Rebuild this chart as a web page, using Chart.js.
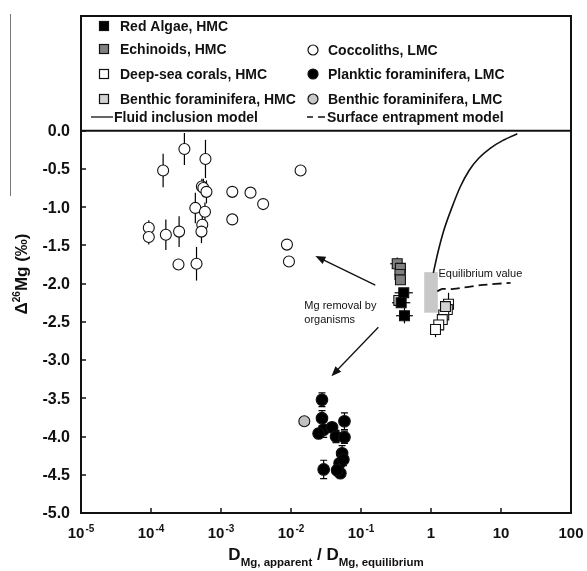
<!doctype html>
<html lang="en">
<head>
<meta charset="utf-8">
<title>Mg isotope fractionation vs D(Mg)</title>
<style>
  * { margin: 0; padding: 0; }
  body { background: #fff; width: 587px; height: 571px; overflow: hidden; }
  canvas { display: block; }
</style>
</head>
<body>
<canvas id="myChart" width="587" height="571"></canvas>
<script src="https://cdn.jsdelivr.net/npm/chart.js"></script>
<script>
// ---- data ----
// coccoliths, LMC (open circles)
const coccoX   = [3.0e-4, 6.0e-4, 1.49e-4, 0.0137, 5.33e-4, 5.6e-4, 6.2e-4, 1.45e-3, 2.64e-3, 4.0e-3, 4.3e-4, 5.9e-4,
                  1.45e-3, 5.4e-4, 9.3e-5, 9.3e-5, 1.63e-4, 2.52e-4, 5.26e-4, 8.75e-3, 9.35e-3, 2.47e-4, 4.47e-4];
const coccoY   = [-0.24, -0.37, -0.52, -0.52, -0.73, -0.75, -0.80, -0.80, -0.81, -0.96, -1.01, -1.06,
                  -1.16, -1.23, -1.27, -1.39, -1.36, -1.32, -1.32, -1.49, -1.71, -1.75, -1.74];
const coccoErr = [0.21, 0.25, 0.22, 0, 0.10, 0.12, 0.15, 0, 0.06, 0, 0.20, 0.12,
                  0, 0.12, 0.10, 0.10, 0.20, 0.20, 0.15, 0, 0, 0.05, 0.22];

// planktic foraminifera, LMC (filled circles)
const plankX   = [0.0277, 0.0277, 0.0293, 0.0386, 0.044, 0.058, 0.058, 0.0537, 0.0495, 0.0507, 0.0293, 0.0455, 0.0248, 0.056];
const plankY   = [-3.52, -3.76, -3.91, -3.88, -4.00, -3.80, -4.01, -4.22, -4.35, -4.48, -4.43, -4.44, -3.96, -4.30];
const plankErr = [0.09, 0.10, 0.10, 0.05, 0.08, 0.11, 0.08, 0.10, 0.10, 0.05, 0.12, 0.06, 0.06, 0.08];

// benthic foraminifera, LMC
const benthLX = [0.0155];
const benthLY = [-3.80];

// red algae, HMC
const algaeX    = [0.408, 0.375, 0.418];
const algaeY    = [-2.12, -2.25, -2.42];
const algaeXErr = [0.13, 0.13, 0.12];   // in decades
const algaeErr  = [0.03, 0.03, 0.10];

// echinoids, HMC
const echinX    = [0.329, 0.366, 0.36, 0.366];
const echinY    = [-1.74, -1.80, -1.88, -1.95];
const echinXErr = [0.10, 0.08, 0.08, 0.06];
const echinErr  = [0.08, 0.06, 0.05, 0.05];

// deep-sea corals, HMC
const coralX   = [1.78, 1.71, 1.52, 1.45, 1.29, 1.16];
const coralY   = [-2.27, -2.34, -2.41, -2.47, -2.54, -2.60];
const coralErr = [0.15, 0.12, 0.10, 0.08, 0.06, 0.10];

// benthic foraminifera, HMC
const benthHX = [1.61, 0.347];
const benthHY = [-2.30, -2.22];

// model curves
const fluidX   = [1.08, 1.25, 1.53, 2.0, 2.6, 3.5, 4.8, 7.0, 10.5, 17.1];
const fluidY   = [-1.86, -1.60, -1.30, -1.00, -0.74, -0.52, -0.36, -0.23, -0.13, -0.04];
const surfaceX = [1.23, 1.45, 2.12, 5.1, 13.7];
const surfaceY = [-2.10, -2.07, -2.07, -2.02, -1.99];

// equilibrium value box
const eqBox = { xMin: 0.8, xMax: 1.25, yMin: -2.38, yMax: -1.85 };

// arrows and notes
const arrowFromX = [0.16, 0.177];
const arrowFromY = [-2.02, -2.57];
const arrowToX   = [0.0223, 0.0378];
const arrowToY   = [-1.64, -3.21];
const noteText = ['Mg removal by', 'organisms', 'Equilibrium value'];
const noteX    = [0.0155, 0.0155, 1.28];
const noteY    = [-2.29, -2.47, -1.87];

// axis ticks
const xTickVals = [1e-5, 1e-4, 1e-3, 1e-2, 1e-1, 1, 10, 100];
const xTickBase = ['10', '10', '10', '10', '10', '1', '10', '100'];
const xTickExp  = ['-5', '-4', '-3', '-2', '-1', '', '', ''];
const yTickVals = [0, -0.5, -1, -1.5, -2, -2.5, -3, -3.5, -4, -4.5, -5];

const FONT = "'Liberation Sans', Arial, sans-serif";

function pts(xs, ys, extra) {
  return xs.map((x, i) => {
    const p = { x: x, y: ys[i] };
    if (extra) Object.keys(extra).forEach(k => { p[k] = extra[k][i]; });
    return p;
  });
}

// error bars, equilibrium box, arrows and notes
const overlays = {
  id: 'overlays',
  beforeDatasetsDraw(chart) {
    const { ctx, scales: { x, y } } = chart;
    ctx.save();
    // equilibrium box
    ctx.fillStyle = '#c8c8c8';
    const bx0 = x.getPixelForValue(eqBox.xMin), bx1 = x.getPixelForValue(eqBox.xMax);
    const by0 = y.getPixelForValue(eqBox.yMax), by1 = y.getPixelForValue(eqBox.yMin);
    ctx.fillRect(bx0, by0, bx1 - bx0, by1 - by0);

    // error bars
    ctx.strokeStyle = '#000';
    ctx.lineWidth = 1.2;
    chart.data.datasets.forEach(ds => {
      if (!ds.errBars) return;
      ds.data.forEach(p => {
        const px = x.getPixelForValue(p.x), py = y.getPixelForValue(p.y);
        if (p.e) {
          const t = y.getPixelForValue(p.y + p.e), b = y.getPixelForValue(p.y - p.e);
          ctx.beginPath();
          ctx.moveTo(px, t); ctx.lineTo(px, b);
          if (ds.caps) {
            ctx.moveTo(px - 3.5, t); ctx.lineTo(px + 3.5, t);
            ctx.moveTo(px - 3.5, b); ctx.lineTo(px + 3.5, b);
          }
          ctx.stroke();
        }
        if (p.ex) {
          const l = x.getPixelForValue(p.x / Math.pow(10, p.ex));
          const r = x.getPixelForValue(p.x * Math.pow(10, p.ex));
          ctx.beginPath();
          ctx.moveTo(l, py); ctx.lineTo(r, py);
          ctx.stroke();
        }
      });
    });
    ctx.restore();
  },
  afterDatasetsDraw(chart) {
    const { ctx, scales: { x, y } } = chart;
    ctx.save();
    // arrows
    ctx.strokeStyle = '#111';
    ctx.fillStyle = '#111';
    ctx.lineWidth = 1.3;
    arrowFromX.forEach((fx, i) => {
      const x0 = x.getPixelForValue(fx), y0 = y.getPixelForValue(arrowFromY[i]);
      const x1 = x.getPixelForValue(arrowToX[i]), y1 = y.getPixelForValue(arrowToY[i]);
      const a = Math.atan2(y1 - y0, x1 - x0);
      ctx.beginPath();
      ctx.moveTo(x0, y0);
      ctx.lineTo(x1 - 6 * Math.cos(a), y1 - 6 * Math.sin(a));
      ctx.stroke();
      ctx.beginPath();
      ctx.moveTo(x1, y1);
      ctx.lineTo(x1 - 10 * Math.cos(a) + 4 * Math.sin(a), y1 - 10 * Math.sin(a) - 4 * Math.cos(a));
      ctx.lineTo(x1 - 10 * Math.cos(a) - 4 * Math.sin(a), y1 - 10 * Math.sin(a) + 4 * Math.cos(a));
      ctx.closePath();
      ctx.fill();
    });
    // notes
    ctx.font = '11px ' + FONT;
    ctx.textBaseline = 'middle';
    ctx.textAlign = 'left';
    noteText.forEach((t, i) => {
      ctx.fillText(t, x.getPixelForValue(noteX[i]), y.getPixelForValue(noteY[i]));
    });
    ctx.restore();
  }
};

// frame, ticks, labels, legend
const frame = {
  id: 'frame',
  afterDraw(chart) {
    const { ctx, chartArea: a, scales: { x, y } } = chart;
    ctx.save();
    ctx.strokeStyle = '#111';
    ctx.fillStyle = '#111';

    // stray rule at the far left of the figure
    ctx.lineWidth = 1;
    ctx.strokeStyle = '#777';
    ctx.beginPath(); ctx.moveTo(10.5, 14); ctx.lineTo(10.5, 196); ctx.stroke();
    ctx.strokeStyle = '#111';

    // frame and legend separator at y = 0
    ctx.lineWidth = 2;
    ctx.strokeRect(a.left, a.top, a.right - a.left, a.bottom - a.top);
    const y0 = y.getPixelForValue(0);
    ctx.beginPath(); ctx.moveTo(a.left, y0); ctx.lineTo(a.right, y0); ctx.stroke();

    // inward ticks
    ctx.lineWidth = 1.5;
    xTickVals.forEach(v => {
      const px = Math.round(x.getPixelForValue(v));
      ctx.beginPath(); ctx.moveTo(px, a.bottom); ctx.lineTo(px, a.bottom - 5); ctx.stroke();
    });
    yTickVals.forEach(v => {
      const py = Math.round(y.getPixelForValue(v));
      ctx.beginPath(); ctx.moveTo(a.left, py); ctx.lineTo(a.left + 5, py); ctx.stroke();
    });

    // y tick labels
    ctx.font = 'bold 16px ' + FONT;
    ctx.textAlign = 'right';
    ctx.textBaseline = 'middle';
    yTickVals.forEach(v => {
      ctx.fillText(v.toFixed(1), a.left - 11, y.getPixelForValue(v) + 1);
    });

    // x tick labels with superscripts
    ctx.textAlign = 'left';
    ctx.textBaseline = 'alphabetic';
    const base = a.bottom + 25;
    xTickVals.forEach((v, i) => {
      ctx.font = 'bold 15px ' + FONT;
      const w1 = ctx.measureText(xTickBase[i]).width;
      ctx.font = 'bold 10px ' + FONT;
      const w2 = xTickExp[i] ? ctx.measureText(xTickExp[i]).width + 1 : 0;
      const start = x.getPixelForValue(v) - (w1 + w2) / 2;
      ctx.font = 'bold 15px ' + FONT;
      ctx.fillText(xTickBase[i], start, base);
      if (w2) {
        ctx.font = 'bold 10px ' + FONT;
        ctx.fillText(xTickExp[i], start + w1 + 1, base - 6);
      }
    });

    // x axis title
    const parts = [
      ['D', 'bold 17px ', 0], ['Mg, apparent', 'bold 11.5px ', 6],
      [' / ', 'bold 17px ', 0], ['D', 'bold 17px ', 0], ['Mg, equilibrium', 'bold 11.5px ', 6]
    ];
    let tw = 0;
    parts.forEach(p => { ctx.font = p[1] + FONT; tw += ctx.measureText(p[0]).width; });
    let cx = (a.left + a.right) / 2 - tw / 2;
    const tb = a.bottom + 47;
    parts.forEach(p => {
      ctx.font = p[1] + FONT;
      ctx.fillText(p[0], cx, tb + p[2]);
      cx += ctx.measureText(p[0]).width;
    });

    // y axis title, rotated
    ctx.save();
    ctx.translate(27, 274);
    ctx.rotate(-Math.PI / 2);
    const yparts = [['\u0394', 'bold 17px ', 0], ['26', 'bold 10px ', -7], ['Mg (\u2030)', 'bold 17px ', 0]];
    let yw = 0;
    yparts.forEach(p => { ctx.font = p[1] + FONT; yw += ctx.measureText(p[0]).width; });
    let yx = -yw / 2;
    yparts.forEach(p => {
      ctx.font = p[1] + FONT;
      ctx.fillText(p[0], yx, p[2]);
      yx += ctx.measureText(p[0]).width;
    });
    ctx.restore();

    // legend
    ctx.font = 'bold 14px ' + FONT;
    ctx.textBaseline = 'middle';
    ctx.lineWidth = 1.2;
    const sq = (cx0, cy0, fill) => {
      ctx.fillStyle = fill; ctx.fillRect(cx0 - 4.5, cy0 - 4.5, 9, 9);
      ctx.strokeStyle = '#111'; ctx.strokeRect(cx0 - 4.5, cy0 - 4.5, 9, 9);
    };
    const ci = (cx0, cy0, fill) => {
      ctx.beginPath(); ctx.arc(cx0, cy0, 5, 0, Math.PI * 2);
      ctx.fillStyle = fill; ctx.fill(); ctx.strokeStyle = '#111'; ctx.stroke();
    };
    const L = a.left, T = a.top;
    const leftItems = [['Red Algae, HMC', '#000', 10], ['Echinoids, HMC', '#808080', 33],
                       ['Deep-sea corals, HMC', '#fff', 58], ['Benthic foraminifera, HMC', '#d3d3d3', 83]];
    leftItems.forEach(it => {
      sq(L + 23, T + it[2], it[1]);
      ctx.fillStyle = '#111';
      ctx.fillText(it[0], L + 39, T + it[2] + 1);
    });
    const rightItems = [['Coccoliths, LMC', '#fff', 34], ['Planktic foraminifera, LMC', '#000', 58],
                        ['Benthic foraminifera, LMC', '#c8c8c8', 83]];
    rightItems.forEach(it => {
      ci(L + 232, T + it[2], it[1]);
      ctx.fillStyle = '#111';
      ctx.fillText(it[0], L + 247, T + it[2] + 1);
    });
    ctx.strokeStyle = '#111';
    ctx.lineWidth = 1.3;
    ctx.beginPath(); ctx.moveTo(L + 10, T + 101); ctx.lineTo(L + 32, T + 101); ctx.stroke();
    ctx.fillText('Fluid inclusion model', L + 33, T + 102);
    ctx.lineWidth = 1.6;
    ctx.beginPath();
    ctx.moveTo(L + 226, T + 101); ctx.lineTo(L + 232, T + 101);
    ctx.moveTo(L + 237, T + 101); ctx.lineTo(L + 244, T + 101);
    ctx.stroke();
    ctx.fillText('Surface entrapment model', L + 246, T + 102);

    ctx.restore();
  }
};

const squareStyle = { pointStyle: 'rect', pointRadius: 7, borderColor: '#111', borderWidth: 1.1 };
const circleStyle = { pointStyle: 'circle', pointRadius: 5.5, borderColor: '#111', borderWidth: 1.1 };

const config = {
  type: 'scatter',
  data: {
    datasets: [
      Object.assign({ label: 'Red Algae, HMC', data: pts(algaeX, algaeY, { e: algaeErr, ex: algaeXErr }),
        backgroundColor: '#000', errBars: true, order: 1 }, squareStyle),
      Object.assign({ label: 'Benthic foraminifera, HMC', data: pts(benthHX, benthHY),
        backgroundColor: '#d3d3d3', order: 3 }, squareStyle),
      Object.assign({ label: 'Echinoids, HMC', data: pts(echinX, echinY, { e: echinErr, ex: echinXErr }),
        backgroundColor: '#808080', errBars: true, order: 2 }, squareStyle),
      Object.assign({ label: 'Deep-sea corals, HMC', data: pts(coralX, coralY, { e: coralErr }),
        backgroundColor: '#fff', errBars: true, order: 4 }, squareStyle),
      Object.assign({ label: 'Coccoliths, LMC', data: pts(coccoX, coccoY, { e: coccoErr }),
        backgroundColor: '#fff', errBars: true, order: 5 }, circleStyle),
      Object.assign({ label: 'Planktic foraminifera, LMC', data: pts(plankX, plankY, { e: plankErr }),
        backgroundColor: '#000', errBars: true, caps: true, order: 6, pointRadius: 5.8 },
        Object.assign({}, circleStyle, { pointRadius: 5.8 })),
      Object.assign({ label: 'Benthic foraminifera, LMC', data: pts(benthLX, benthLY),
        backgroundColor: '#c0c0c0', order: 7 }, circleStyle),
      { label: 'Fluid inclusion model', data: pts(fluidX, fluidY), showLine: true, pointRadius: 0,
        borderColor: '#111', borderWidth: 1.6, cubicInterpolationMode: 'monotone', order: 8 },
      { label: 'Surface entrapment model', data: pts(surfaceX, surfaceY), showLine: true, pointRadius: 0,
        borderColor: '#111', borderWidth: 1.8, borderDash: [9, 5], tension: 0.2, order: 9 }
    ]
  },
  options: {
    responsive: false,
    animation: false,
    layout: { padding: { left: 81, right: 16, top: 16, bottom: 58 } },
    scales: {
      x: { type: 'logarithmic', min: 1e-5, max: 100, display: false },
      y: { type: 'linear', min: -5, max: 1.5, display: false }
    },
    plugins: { legend: { display: false }, tooltip: { enabled: false } }
  },
  plugins: [overlays, frame]
};

const myChart = new Chart(document.getElementById('myChart'), config);
</script>
</body>
</html>
